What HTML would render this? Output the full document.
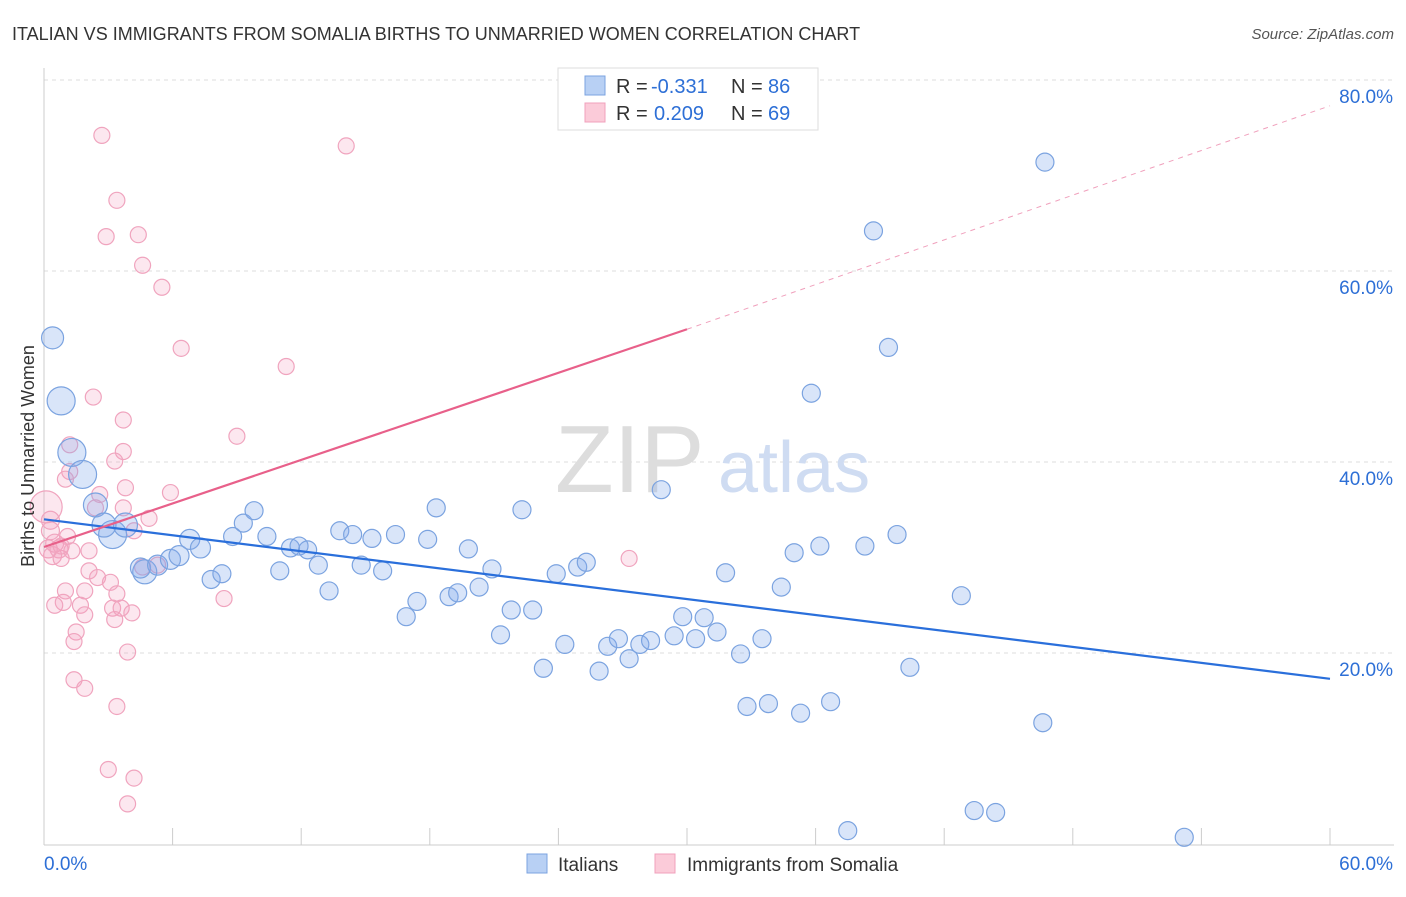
<!DOCTYPE html>
<html><head><meta charset="utf-8">
<style>
body{margin:0;background:#fff;font-family:"Liberation Sans",sans-serif;}
svg text{font-family:"Liberation Sans",sans-serif;}
</style></head>
<body>
<svg id="chart" width="1406" height="892" viewBox="0 0 1406 892">
<text x="12" y="40" font-size="18" fill="#333">ITALIAN VS IMMIGRANTS FROM SOMALIA BIRTHS TO UNMARRIED WOMEN CORRELATION CHART</text>
<text x="1394" y="39" font-size="15" fill="#555" text-anchor="end" font-style="italic">Source: ZipAtlas.com</text>
<g id="grid"></g>
<g id="axes"></g>
<text x="555" y="492" font-size="96" fill="#ddd" font-family="Liberation Serif">ZIP</text>
<text x="718" y="492" font-size="72" fill="#cfdcf2">atlas</text>
<g id="pts"></g>
<g id="lines"></g>
<text transform="translate(34,456) rotate(-90)" font-size="18" fill="#333" text-anchor="middle">Births to Unmarried Women</text>
<g>
<rect x="558" y="68" width="260" height="62" fill="#fff" stroke="#ddd"/>
<rect x="585" y="76" width="20" height="19" fill="#b8d0f4" stroke="#7ba3e0"/>
<rect x="585" y="103" width="20" height="19" fill="#fbcbd9" stroke="#f0a0bc"/>
<text x="616" y="93" font-size="20" fill="#333">R =</text>
<text x="651" y="93" font-size="20" fill="#2d6fd6">-0.331</text>
<text x="731" y="93" font-size="20" fill="#333">N =</text>
<text x="768" y="93" font-size="20" fill="#2d6fd6">86</text>
<text x="616" y="120" font-size="20" fill="#333">R =</text>
<text x="654" y="120" font-size="20" fill="#2d6fd6">0.209</text>
<text x="731" y="120" font-size="20" fill="#333">N =</text>
<text x="768" y="120" font-size="20" fill="#2d6fd6">69</text>
</g>
<g>
<rect x="527" y="854" width="20" height="19" fill="#b8d0f4" stroke="#7ba3e0"/>
<text x="558" y="871" font-size="19" fill="#333">Italians</text>
<rect x="655" y="854" width="20" height="19" fill="#fbcbd9" stroke="#f0a0bc"/>
<text x="687" y="871" font-size="19" fill="#333">Immigrants from Somalia</text>
</g>
</svg>
<script>
const blueX=[0.4,0.8,1.3,1.8,2.4,3.2,2.8,3.8,4.7,4.5,5.3,5.9,6.3,6.8,7.3,7.8,8.3,8.8,9.3,9.8,10.4,11.0,11.5,11.9,12.3,12.8,13.3,13.8,14.4,14.8,15.3,15.8,16.4,16.9,17.4,17.9,18.3,18.9,19.3,19.8,20.3,20.9,21.3,21.8,22.3,22.8,23.3,23.9,24.3,24.9,25.3,25.9,26.3,26.8,27.3,27.8,28.3,28.8,29.4,29.8,30.4,30.8,31.4,31.8,32.5,32.8,33.5,33.8,34.4,35.0,35.3,35.8,36.2,36.7,37.5,38.3,38.7,39.4,39.8,40.4,42.8,43.4,44.4,46.6,46.7,53.2];
const blueY=[53.0,46.4,41.0,38.7,35.5,32.4,33.4,33.4,28.5,28.9,29.2,29.8,30.2,31.9,31.0,27.7,28.3,32.2,33.6,34.9,32.2,28.6,31.0,31.2,30.8,29.2,26.5,32.8,32.4,29.2,32.0,28.6,32.4,23.8,25.4,31.9,35.2,25.9,26.3,30.9,26.9,28.8,21.9,24.5,35.0,24.5,18.4,28.3,20.9,29.0,29.5,18.1,20.7,21.5,19.4,20.9,21.3,37.1,21.8,23.8,21.5,23.7,22.2,28.4,19.9,14.4,21.5,14.7,26.9,30.5,13.7,47.2,31.2,14.9,1.4,31.2,64.2,52.0,32.4,18.5,26.0,3.5,3.3,12.7,71.4,0.7];
const blueR=[11,14,14,14,12,14,12,12,12,10,10,10,10,10,10,9,9,9,9,9,9,9,9,9,9,9,9,9,9,9,9,9,9,9,9,9,9,9,9,9,9,9,9,9,9,9,9,9,9,9,9,9,9,9,9,9,9,9,9,9,9,9,9,9,9,9,9,9,9,9,9,9,9,9,9,9,9,9,9,9,9,9,9,9,9,9];
const pinkX=[2.7,3.4,2.9,4.4,4.6,5.5,14.1,6.4,11.3,2.3,3.7,9.0,1.2,3.7,3.3,1.2,1.0,3.8,5.9,2.6,2.4,3.7,4.9,4.2,0.3,0.3,0.5,0.7,0.2,0.4,1.3,2.1,0.8,2.1,2.5,1.9,3.1,1.0,3.4,0.9,0.5,1.7,3.2,3.6,4.1,1.9,3.3,1.5,1.4,3.9,1.4,1.9,3.4,3.0,4.2,3.9,27.3,8.4,0.1,1.1,0.8,4.6,5.3];
const pinkY=[74.2,67.4,63.6,63.8,60.6,58.3,73.1,51.9,50.0,46.8,44.4,42.7,41.8,41.1,40.1,39.0,38.2,37.3,36.8,36.6,35.2,35.2,34.1,32.8,33.9,32.8,31.5,30.9,30.9,30.2,30.7,30.7,29.9,28.6,27.9,26.5,27.4,26.5,26.2,25.3,25.0,25.0,24.7,24.7,24.2,24.0,23.5,22.2,21.2,20.1,17.2,16.3,14.4,7.8,6.9,4.2,29.9,25.7,35.3,32.2,31.2,29.0,29.2];
const pinkR=[8,8,8,8,8,8,8,8,8,8,8,8,8,8,8,8,8,8,8,8,8,8,8,8,9,9,9,9,9,9,8,8,8,8,8,8,8,8,8,8,8,8,8,8,8,8,8,8,8,8,8,8,8,8,8,8,8,8,16,8,8,8,8];
const xTicks=[0,6,12,18,24,30,36,42,48,54,60];
const yTicks=[20,40,60,80];
const blueLine=[34.0,17.3];
const pinkLine=[31.1,53.9,77.3];
const NS='http://www.w3.org/2000/svg';
const X0=44,X1=1330,Y0=844,PY=9.55;
const sx=v=>X0+(v/60)*(X1-X0), sy=v=>Y0-v*PY;
function mk(tag,a,parent){const e=document.createElementNS(NS,tag);for(const k in a)e.setAttribute(k,a[k]);document.getElementById(parent).appendChild(e);return e;}
yTicks.forEach(t=>{
 const l=mk('line',{x1:44,x2:1394,y1:sy(t),y2:sy(t),stroke:'#ddd','stroke-dasharray':'4,4'},'grid');
 
 
 const tx=mk('text',{x:1393,y:sy(t)+23,'font-size':19,fill:'#2d6fd6','text-anchor':'end'},'grid');
 tx.textContent=t.toFixed(1)+'%';
 
 
});
mk('line',{x1:44,x2:44,y1:68,y2:845,stroke:'#ccc'},'axes');
mk('line',{x1:44,x2:1394,y1:845,y2:845,stroke:'#ccc'},'axes');
xTicks.forEach(t=>{
 const l=mk('line',{x1:sx(t),x2:sx(t),y1:828,y2:845,stroke:'#ccc'},'axes');
 
 
});
const xl=mk('text',{x:44,y:870,'font-size':19,fill:'#2d6fd6'},'axes');xl.textContent='0.0%';


const xr=mk('text',{x:1393,y:870,'font-size':19,fill:'#2d6fd6','text-anchor':'end'},'axes');xr.textContent='60.0%';


pinkX.forEach((v,i)=>{
 const c=mk('circle',{cx:sx(v),cy:sy(pinkY[i]),r:pinkR[i],fill:'rgba(244,160,190,0.25)',stroke:'#f0a4be','stroke-width':1.2},'pts');
 
 
});
blueX.forEach((v,i)=>{
 const c=mk('circle',{cx:sx(v),cy:sy(blueY[i]),r:blueR[i],fill:'rgba(130,170,235,0.3)',stroke:'#7ba3e0','stroke-width':1.2},'pts');
 
 
});
const bl=mk('line',{x1:sx(0),y1:sy(blueLine[0]),x2:sx(60),y2:sy(blueLine[1]),stroke:'#2a6fdb','stroke-width':2.2},'lines');


const pl=mk('line',{x1:sx(0),y1:sy(pinkLine[0]),x2:sx(30),y2:sy(pinkLine[1]),stroke:'#e8608a','stroke-width':2.2},'lines');


const pd=mk('line',{x1:sx(30),y1:sy(pinkLine[1]),x2:sx(60),y2:sy(pinkLine[2]),stroke:'#f0a0bc','stroke-width':1,'stroke-dasharray':'5,5'},'lines');


</script>
</body></html>
